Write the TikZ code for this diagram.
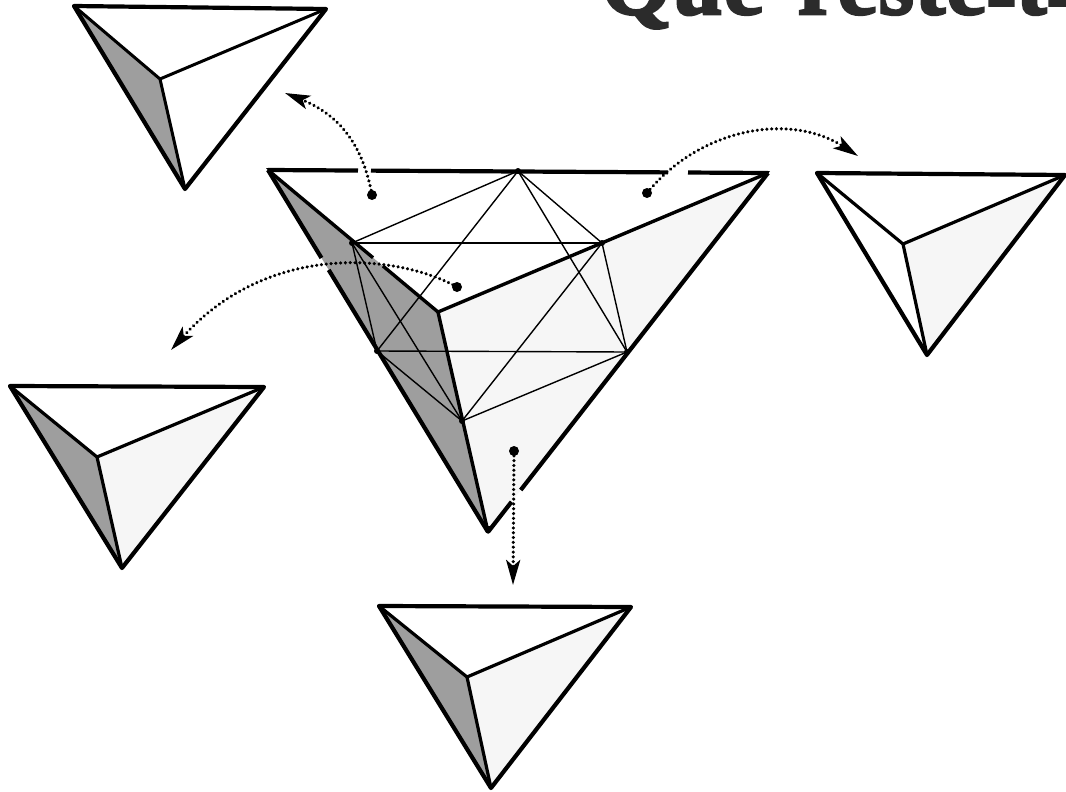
\documentclass[tikz,border=0pt]{standalone}
\usepackage{fontspec}
\setmainfont{Liberation Serif}
\newfontfamily\titlefont[FakeBold=3,LetterSpace=1.5]{Liberation Serif Bold}
\usetikzlibrary{arrows.meta,calc}
\definecolor{darkshade}{gray}{0.62}
\definecolor{lightshade}{gray}{0.965}
\definecolor{titleink}{gray}{0.17}
\newcommand{\lowhyphen}{\raisebox{-9pt}{-}}
\tikzset{
  heavy/.style={line width=4.2pt,line cap=round,line join=miter,black},
  ridge/.style={line width=3.4pt,line cap=round,black},
  fine/.style={line width=1.4pt,black},
  vertexdot/.style={circle,fill=black,inner sep=0pt,minimum size=6pt},
  startdot/.style={circle,fill=black,inner sep=0pt,minimum size=10pt},
  dotarrow/.style={line width=3.5pt,line cap=round,dash pattern=on 0.01pt off 4.8pt,
    -{Stealth[length=25pt,width=14pt,inset=6pt,sep=0pt]}},
}
% #1 A, #2 B, #3 C, #4 inner vertex, #5 dark fill colour, #6 light fill colour, #7 ridge width
\newcommand{\smalltet}[7]{%
  \fill[#5] #1 -- #4 -- #3 -- cycle;
  \fill[#6] #4 -- #2 -- #3 -- cycle;
  \draw[ridge,line width=#7] #1 -- #4 -- #3;
  \draw[ridge,line width=#7] #4 -- #2;
  \draw[heavy,line join=round] #1 -- #2 -- #3 -- cycle;
}
\begin{document}
\begin{tikzpicture}[x=1pt,y=-1pt]
\useasboundingbox (0,0) rectangle (1066,792);
\clip (0,0) rectangle (1066,792);
\fill[white] (0,0) rectangle (1066,792);

% Title, cut by the page
\node[anchor=base west,inner sep=0pt,text=titleink,font=\titlefont\fontsize{90}{90}\selectfont] (title)
  at (601,14) {Que\hspace{34pt}reste\lowhyphen t\lowhyphen};

% Small tetrahedra
\smalltet{(74,6)}{(326,9)}{(185,189)}{(160,79)}{darkshade}{white}{3pt}
\smalltet{(817,173)}{(1065,175)}{(927,355)}{(903,244)}{white}{lightshade}{3.2pt}
\smalltet{(10,386)}{(264,387)}{(122,568)}{(97,457)}{darkshade}{lightshade}{3.2pt}
\smalltet{(379,606)}{(631,607)}{(491,788)}{(467,677)}{darkshade}{lightshade}{3.2pt}

% Main tetrahedron
\coordinate (A) at (268,170);
\coordinate (B) at (768,173);
\coordinate (C) at (488,532);
\coordinate (I) at (438,312);
\fill[darkshade] (A) -- (I) -- (C) -- cycle;
\fill[lightshade] (I) -- (B) -- (C) -- cycle;

% Octahedron
\node[vertexdot] (T) at (518,171) {};
\node[vertexdot] (E) at (352,243) {};
\node[vertexdot] (F) at (602,243) {};
\node[vertexdot] (L) at (377,351) {};
\node[vertexdot] (R) at (627,352) {};
\node[vertexdot] (G) at (462,421) {};
\draw[fine] (T.center) -- (E.center);
\draw[fine] (T.center) -- (F.center);
\draw[fine] (T.center) -- (L.center);
\draw[fine] (T.center) -- (R.center);
\draw[fine] (E.center) -- (F.center);
\draw[fine] (F.center) -- (R.center);
\draw[fine] (R.center) -- (L.center);
\draw[fine] (L.center) -- (E.center);
\draw[fine] (G.center) -- (E.center);
\draw[fine] (G.center) -- (F.center);
\draw[fine] (G.center) -- (L.center);
\draw[fine] (G.center) -- (R.center);

% Thick edges, interrupted where the arrows pass
\draw[heavy,line cap=butt] (A) -- ($(A)!.18!(B)$);
\draw[heavy,line cap=butt] ($(A)!.206!(B)$) -- ($(A)!.80!(B)$);
\draw[heavy,line cap=butt] ($(A)!.84!(B)$) -- (B);
\draw[heavy,line cap=butt] (A) -- ($(A)!.243!(C)$);
\draw[heavy,line cap=butt] ($(A)!.276!(C)$) -- (C);
\draw[heavy,line cap=butt] (B) -- ($(B)!.883!(C)$);
\draw[heavy,line cap=butt] ($(B)!.916!(C)$) -- (C);
\draw[ridge,line cap=butt] (A) -- ($(A)!.618!(I)$);
\draw[ridge,line cap=butt] ($(A)!.676!(I)$) -- (I);
\draw[ridge,line join=miter] (I) -- (C);
\draw[ridge,line cap=butt] (I) -- (B);
\fill[black] (A) ++(-2,-2) -- ++(8,0) -- ++(-3,6) -- cycle;
\fill[black] (B) ++(2,-2) -- ++(-10,0) -- ++(5,7) -- cycle;
\fill[black] (C) ++(0,2) -- ++(-5,-8) -- ++(9,0) -- cycle;

% Arrows
\node[startdot] (s1) at (372,195) {};
\node[startdot] (s2) at (647,193) {};
\node[startdot] (s3) at (457,287) {};
\node[startdot] (s4) at (514,451) {};
\coordinate (t1) at (285,93);
\coordinate (t2) at (858,156);
\coordinate (t3) at (171,350);
\coordinate (t4) at (513,585);
\draw[dotarrow] (s1.center) .. controls (362,140) and (335,113) .. (t1);
\draw[dotarrow] (s2.center) .. controls (700,128) and (790,112) .. (t2);
\draw[dotarrow] (s3.center) .. controls (400,255) and (270,240) .. (t3);
\draw[dotarrow] (s4.center) -- (t4);
\end{tikzpicture}
\end{document}
